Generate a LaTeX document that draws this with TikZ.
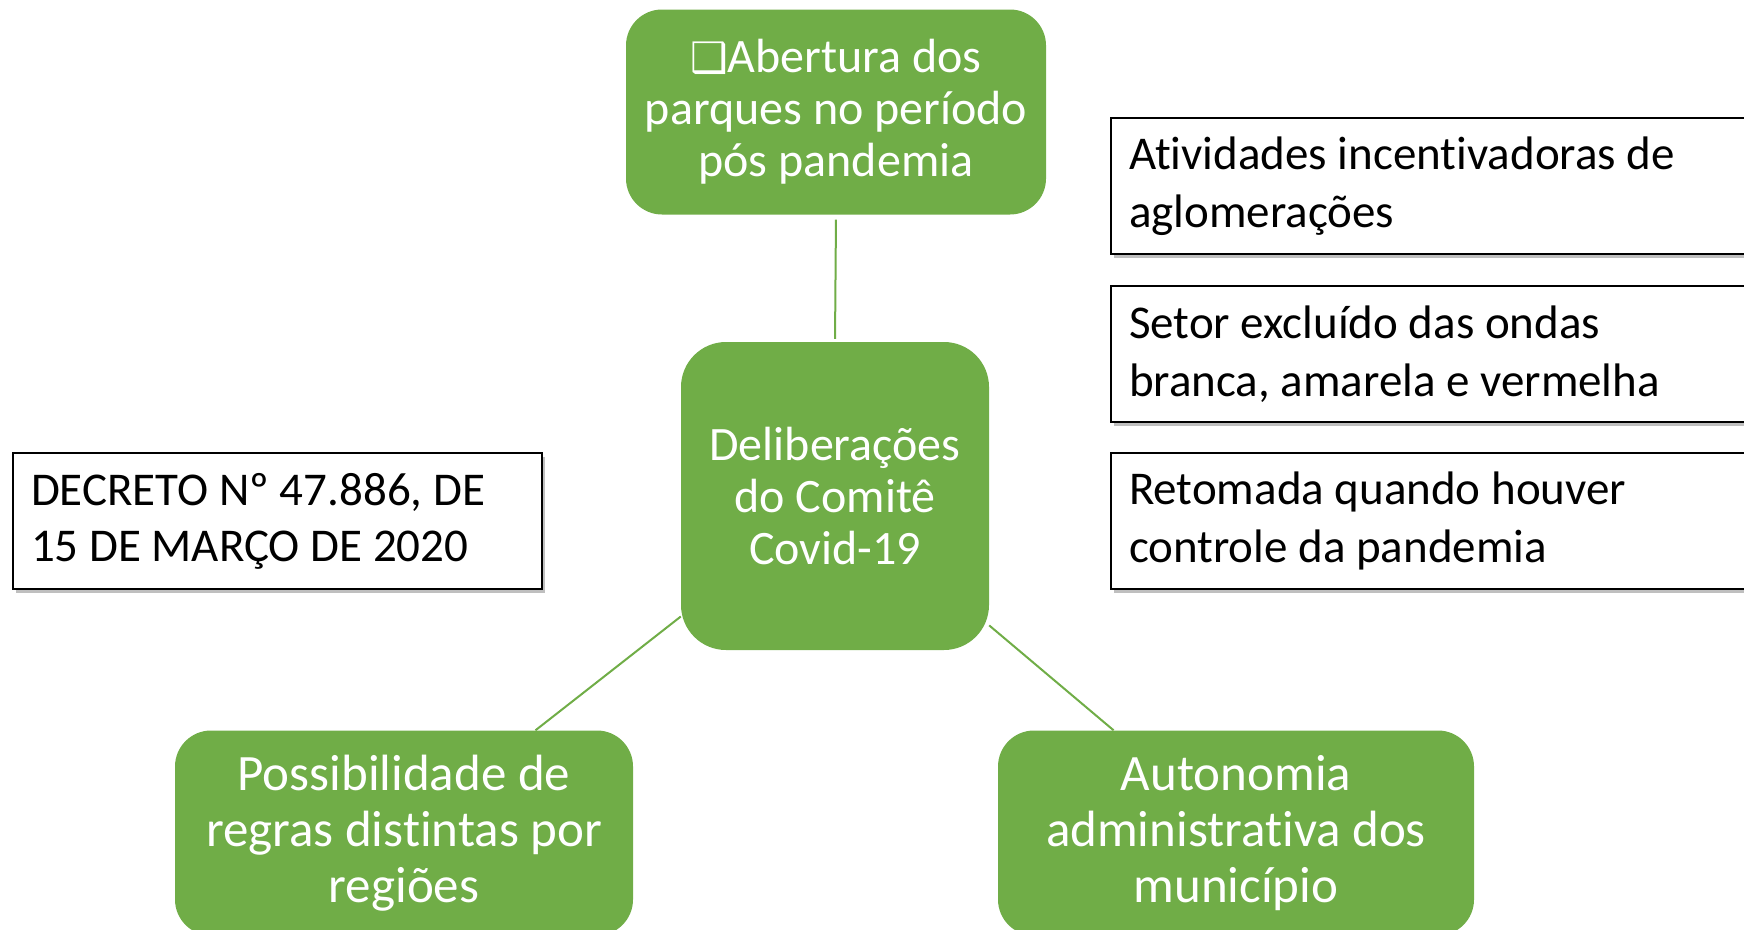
\documentclass[tikz,border=0pt]{standalone}
\usepackage{fontspec}
\setmainfont{Carlito}[Ligatures=NoCommon]
\newfontfamily\symfont{DejaVu Sans}
\usetikzlibrary{shadows}
\definecolor{leafgreen}{HTML}{70AD47}
\frenchspacing
\tikzset{
  greenbox/.style = {
    fill=leafgreen, text=white, rounded corners=36pt, align=center,
    inner sep=0pt, font=\fontsize{48}{52}\selectfont
  }
}
\tikzset{
  notebox/.style = {
    draw=black, line width=2pt, fill=white, align=flush left, anchor=north west,
    inner xsep=18pt, inner ysep=0pt, minimum height=136pt,
    font=\fontsize{47}{58}\selectfont,
    drop shadow={shadow xshift=3pt, shadow yshift=-4pt, opacity=.5}
  }
}
\tikzset{link/.style = {draw=leafgreen, line width=2pt}}

\begin{document}
\begin{tikzpicture}[x=1pt,y=-1pt]
  % frame
  \path[use as bounding box, clip] (0,0) rectangle (1744,929);
  % green boxes
  \node[greenbox, minimum width=420pt, minimum height=205pt] (parques) at (836,112)
    {{\symfont\fontsize{42}{52}\selectfont ❑}Abertura dos\\parques no período\\pós pandemia};
  \node[greenbox, minimum width=308pt, minimum height=308pt, rounded corners=45pt] (hub) at (835,496)
    {Deliberações\\do Comitê\\Covid-19};
  \node[greenbox, minimum width=458pt, minimum height=205pt, font=\fontsize{51}{56}\selectfont] (regioes) at (404,833)
    {Possibilidade de\\regras distintas por\\regiões};
  \node[greenbox, minimum width=476pt, minimum height=205pt, font=\fontsize{51}{56}\selectfont] (municipio) at (1236,833)
    {Autonomia\\administrativa dos\\município};
  % white boxes
  \node[notebox, text width=493pt, font=\fontsize{47}{56}\selectfont] (decreto) at (12,452)
    {DECRETO Nº 47.886, DE\\15 DE MARÇO DE 2020};
  \node[notebox, text width=660pt] (atividades) at (1110,117)
    {Atividades incentivadoras de\\aglomerações};
  \node[notebox, text width=660pt] (setor) at (1110,285)
    {Setor excluído das ondas\\branca, amarela e vermelha};
  \node[notebox, text width=660pt] (retomada) at (1110,452)
    {Retomada quando houver\\controle da pandemia};
  % connectors
  \draw[link, shorten <=5pt, shorten >=3pt] (parques.south) -- (hub.north);
  \draw[link] (hub.218) -- (regioes.38);
  \draw[link] (hub.-40) -- (municipio.140);
\end{tikzpicture}
\end{document}
